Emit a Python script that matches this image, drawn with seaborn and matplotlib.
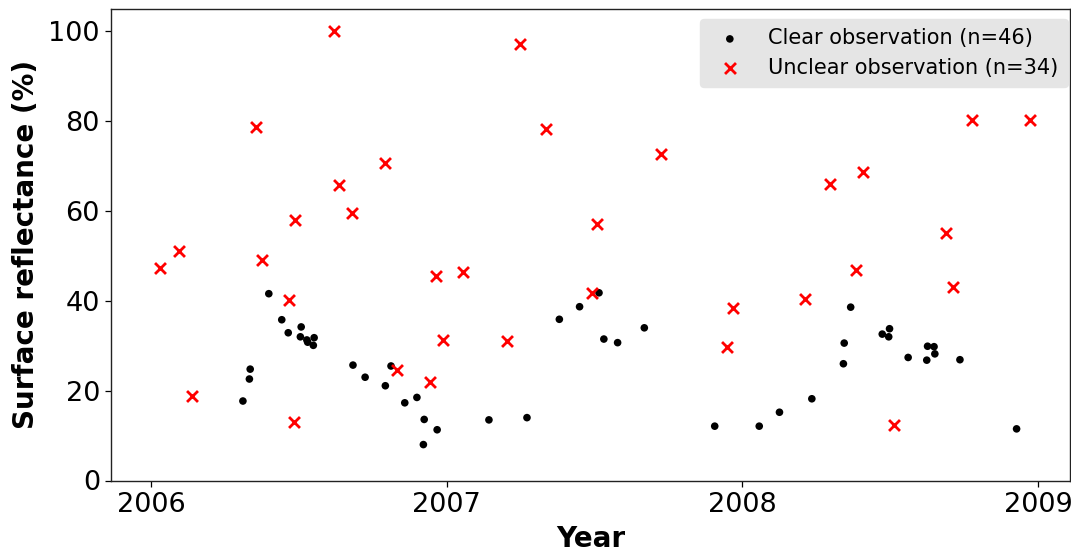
import matplotlib
matplotlib.use("Agg")
import matplotlib.pyplot as plt
import matplotlib.dates as mdates
import pandas as pd
import seaborn as sns

# Clear observations: acquisition date and surface reflectance (%)
clear_dates = [
    "2006-04-24", "2006-05-02", "2006-05-03", "2006-05-26", "2006-06-11",
    "2006-06-19", "2006-07-05", "2006-07-04", "2006-07-12", "2006-07-13",
    "2006-07-21", "2006-07-20", "2006-09-07", "2006-09-22", "2006-10-17",
    "2006-10-24", "2006-11-10", "2006-11-25", "2006-12-04", "2006-12-03",
    "2006-12-20", "2007-02-22", "2007-04-10", "2007-05-20", "2007-06-14",
    "2007-07-08", "2007-07-14", "2007-07-31", "2007-09-02", "2007-11-28",
    "2008-01-22", "2008-02-16", "2008-03-27", "2008-05-05", "2008-05-06",
    "2008-05-14", "2008-06-22", "2008-06-30", "2008-07-01", "2008-07-24",
    "2008-08-16", "2008-08-17", "2008-08-25", "2008-08-26", "2008-09-26",
    "2008-12-05",
]
clear_values = [
    17.7, 22.6, 24.8, 41.6, 35.8,
    32.9, 34.2, 32.0, 31.3, 30.8,
    31.8, 30.1, 25.7, 23.0, 21.1,
    25.5, 17.3, 18.5, 13.6, 8.0,
    11.3, 13.5, 14.0, 35.9, 38.7,
    41.8, 31.5, 30.7, 34.0, 12.1,
    12.1, 15.2, 18.2, 26.0, 30.6,
    38.6, 32.6, 32.0, 33.8, 27.4,
    26.8, 29.9, 29.8, 28.2, 26.9,
    11.5,
]

# Unclear observations: acquisition date and surface reflectance (%)
unclear_dates = [
    "2006-01-11", "2006-02-04", "2006-02-20", "2006-05-10", "2006-05-18",
    "2006-06-20", "2006-06-26", "2006-06-27", "2006-08-14", "2006-08-21",
    "2006-09-06", "2006-10-16", "2006-11-01", "2006-12-11", "2006-12-19",
    "2006-12-27", "2007-01-21", "2007-03-16", "2007-04-02", "2007-05-03",
    "2007-06-29", "2007-07-06", "2007-09-23", "2007-12-13", "2007-12-20",
    "2008-03-18", "2008-04-18", "2008-05-21", "2008-05-29", "2008-07-07",
    "2008-09-09", "2008-09-17", "2008-10-11", "2008-12-21",
]
unclear_values = [
    47.4, 51.2, 18.8, 78.7, 49.0,
    40.2, 13.0, 58.0, 100.0, 65.7,
    59.5, 70.7, 24.5, 22.0, 45.5,
    31.3, 46.5, 31.1, 97.2, 78.3,
    41.8, 57.2, 72.8, 29.8, 38.5,
    40.4, 66.1, 46.8, 68.8, 12.4,
    55.1, 43.0, 80.2, 80.2,
]

y_ticks = [0, 20, 40, 60, 80, 100]

clear_df = pd.DataFrame({"date": pd.to_datetime(clear_dates), "refl": clear_values})
unclear_df = pd.DataFrame({"date": pd.to_datetime(unclear_dates), "refl": unclear_values})

plt.rcParams["font.family"] = ["DejaVu Sans"]

W, H = 1071, 554
fig = plt.figure(figsize=(W / 100, H / 100), dpi=100)
ax = fig.add_axes([111 / W, 1 - 480.5 / H, (1070 - 111) / W, (480.5 - 9) / H])

sns.scatterplot(data=clear_df, x="date", y="refl", ax=ax, color="black",
                marker="o", s=30, edgecolor="none",
                label=f"Clear observation (n={len(clear_values)})", zorder=3)
sns.scatterplot(data=unclear_df, x="date", y="refl", ax=ax, color="red",
                marker="x", s=62, linewidth=2.0,
                label=f"Unclear observation (n={len(unclear_values)})", zorder=3)

ax.set_xlim(pd.Timestamp("2005-11-12"), pd.Timestamp("2009-02-09"))
ax.set_ylim(0, 105)
ax.set_yticks(y_ticks)
ax.xaxis.set_major_locator(mdates.YearLocator())
ax.xaxis.set_major_formatter(mdates.DateFormatter("%Y"))
ax.tick_params(axis="both", labelsize=19.5, direction="out", length=4.5, width=0.9)
for sp in ax.spines.values():
    sp.set_linewidth(1.0)
    sp.set_color("#222222")

ax.set_xlabel("Year", fontsize=20, fontweight="bold", labelpad=5)
ax.set_ylabel("Surface reflectance (%)", fontsize=20, fontweight="bold", labelpad=6)

leg = ax.legend(loc="upper right", bbox_to_anchor=(1068 / W, 1 - 19 / H),
                bbox_transform=fig.transFigure, borderaxespad=0.0,
                fontsize=15, frameon=True, fancybox=True,
                facecolor="#e5e5e5", edgecolor="#e5e5e5", framealpha=1.0,
                borderpad=0.45, handletextpad=0.85, labelspacing=0.45)

fig.savefig("out.png", dpi=100)
